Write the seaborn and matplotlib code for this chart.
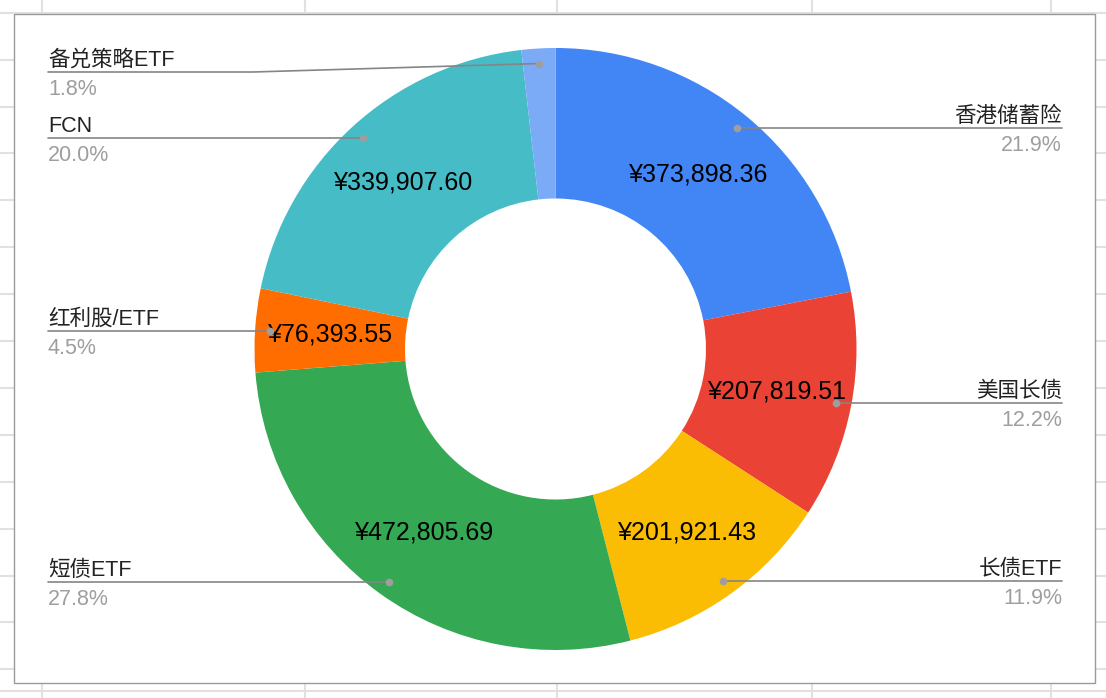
import numpy as np
import matplotlib
matplotlib.use("Agg")
from matplotlib import pyplot as plt
from matplotlib.patches import Rectangle
import seaborn as sns

# ---- data ---------------------------------------------------------------
labels = ["香港储蓄险", "美国长债", "长债ETF", "短债ETF", "红利股/ETF", "FCN", "备兑策略ETF"]
values = [373898.36, 207819.51, 201921.43, 472805.69, 76393.55, 339907.60, 30900.00]
slice_colors = ["#4285F4", "#EA4335", "#FBBC04", "#34A853", "#FF6D01", "#46BDC6", "#7BAAF7"]

# ---- layout (pixels, measured from top-left) ---------------------------
W, H = 1106, 698
CX, CY = 555.5, 349
R = 301
HOLE = 0.5
LEFT_X, RIGHT_X = 48, 1062
MIN_LINE_Y = 72
BEND_DX = 205

sns.set_theme(style="white")
plt.rcParams["font.family"] = ["Liberation Sans", "Noto Sans CJK SC"]


def py(y):
    # top-based pixel y -> axes y
    return H - y


fig = plt.figure(figsize=(W / 100, H / 100), dpi=100)
ax = fig.add_axes([0, 0, 1, 1])

# spreadsheet cell grid behind the chart box
for gy in [13, 60, 107, 153, 200, 247, 294, 341, 388, 435, 482, 529, 576, 622, 669, 691]:
    ax.axhline(py(gy), color="#e1e1e1", lw=1.5, zorder=0)
for gx in [42, 305, 557, 812, 1051]:
    ax.axvline(gx, color="#e1e1e1", lw=1.5, zorder=0)
ax.add_patch(Rectangle((14, py(683)), 1081, 669, facecolor="white",
                       edgecolor="#9a9a9a", lw=1.0, zorder=1))

wedges, _ = ax.pie(
    values,
    colors=sns.color_palette(slice_colors),
    startangle=90,
    counterclock=False,
    radius=R,
    center=(CX, py(CY)),
    wedgeprops=dict(width=R * (1 - HOLE), linewidth=0),
    frame=True,
)
for w in wedges:
    w.set_zorder(2)

total = sum(values)
for w, name, val in zip(wedges, labels, values):
    pct = val / total * 100
    mid = np.deg2rad((w.theta1 + w.theta2) / 2)
    cos, sin = np.cos(mid), np.sin(mid)

    # value label in the middle of the ring
    if pct >= 2:
        rm = R * (1 + HOLE) / 2
        ax.text(CX + rm * cos, py(CY) + rm * sin, f"¥{val:,.2f}",
                ha="center", va="center", fontsize=18, color="black", zorder=4)

    # leader line + outside label
    dx, dy = CX + 0.95 * R * cos, py(CY) + 0.95 * R * sin
    line_y = min(dy, py(MIN_LINE_Y))
    if cos < 0:
        xs = [LEFT_X, dx]
        ha, tx = "left", LEFT_X
        bend = LEFT_X + BEND_DX
    else:
        xs = [dx, RIGHT_X]
        ha, tx = "right", RIGHT_X
        bend = RIGHT_X - BEND_DX
    if abs(line_y - dy) > 0.5:
        if cos < 0:
            ax.plot([LEFT_X, bend, dx], [line_y, line_y, dy], color="#858585", lw=1.2, zorder=3)
        else:
            ax.plot([dx, bend, RIGHT_X], [dy, line_y, line_y], color="#858585", lw=1.2, zorder=3)
    else:
        ax.plot(xs, [line_y, line_y], color="#858585", lw=1.2, zorder=3)
    ax.plot(dx, dy, "o", color="#9e9e9e", markersize=5.5, markeredgewidth=0, zorder=4)

    ax.text(tx, line_y + 6, name, ha=ha, va="baseline", fontsize=15.5,
            color="#222222", zorder=4)
    ax.text(tx, line_y - 23, f"{pct:.1f}%", ha=ha, va="baseline", fontsize=15.5,
            color="#9e9e9e", zorder=4)

ax.set_xlim(0, W)
ax.set_ylim(0, H)
ax.set_aspect("auto")
ax.axis("off")

fig.savefig("out.png", dpi=100)
